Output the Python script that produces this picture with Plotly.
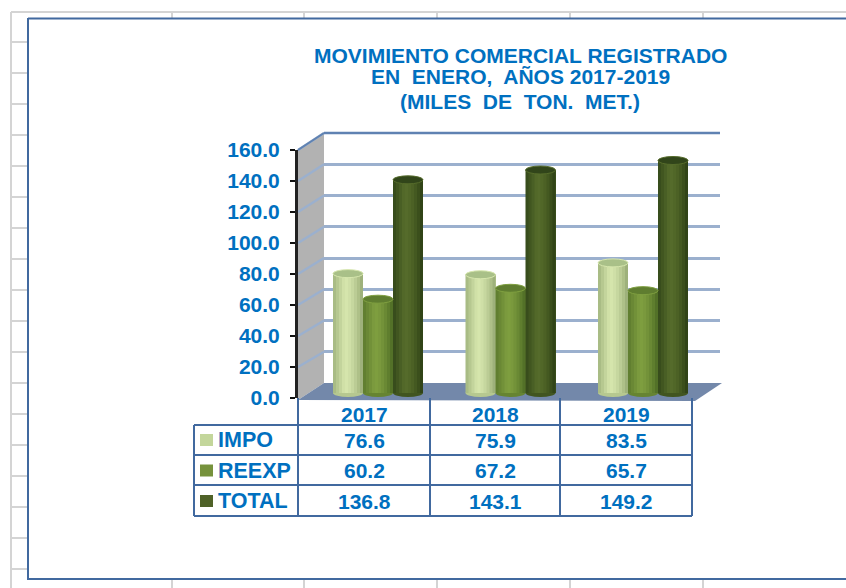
import plotly.graph_objects as go

W, H = 846, 588
years = ["2017", "2018", "2019"]
series_names = ["IMPO", "REEXP", "TOTAL"]
impo = [76.6, 75.9, 83.5]
reexp = [60.2, 67.2, 65.7]
total = [136.8, 143.1, 149.2]
all_series = [impo, reexp, total]
axis_ticks = [0, 20, 40, 60, 80, 100, 120, 140, 160]
title_lines = ["MOVIMIENTO COMERCIAL REGISTRADO", "EN  ENERO,  AÑOS 2017-2019", "(MILES  DE  TON.  MET.)"]

# cylinder shading: (edge-left, highlight, edge-right), top cap, base, legend key
shades = [("#a3b67f", "#d6e6ad", "#96a973"), ("#5d7a2e", "#7f9f40", "#4d6a24"), ("#34491a", "#566c2b", "#2c3e14")]
caps = ["#a9c088", "#5f7d30", "#31451a"]
keys = ["#c3d69b", "#76923c", "#4f6228"]
BLUE = "#0070c0"
FRAME = "#41699f"
GRID = "#9bb0ce"
SHEET = "#d4d4d4"


def fx(p):
    return p / W


def fy(p):
    return 1 - p / H


def hex2(c):
    return [int(c[i:i + 2], 16) for i in (1, 3, 5)]


def mix(a, b, t):
    A, B = hex2(a), hex2(b)
    return "rgb(%d,%d,%d)" % tuple(round(A[i] + (B[i] - A[i]) * t) for i in range(3))


shapes, annos = [], []


def line(x0, y0, x1, y1, color, width, layer="below"):
    shapes.append(dict(type="line", xref="paper", yref="paper", x0=fx(x0), x1=fx(x1), y0=fy(y0), y1=fy(y1),
                       line=dict(color=color, width=width), layer=layer))


def poly(pts, color):
    d = "M" + " L".join(f"{fx(a):.5f},{fy(b):.5f}" for a, b in pts) + " Z"
    shapes.append(dict(type="path", xref="paper", yref="paper", path=d, fillcolor=color,
                       line=dict(width=0), layer="below"))


def label(x, y, text, anchor="center", size=21):
    annos.append(dict(xref="paper", yref="paper", x=fx(x), y=fy(y), text=text, showarrow=False, xanchor=anchor,
                      yanchor="middle", font=dict(family="Liberation Sans", size=size, color=BLUE, weight=700)))


# spreadsheet grid behind the frame
line(11, 12, 846, 12, SHEET, 2)
line(11, 12, 11, 588, SHEET, 2)
for yy in [42, 73, 104, 135, 166, 197, 228, 259, 290, 321, 352, 383, 414, 445, 476, 507, 538, 569]:
    line(11, yy, 28, yy, SHEET, 2)
for xx in [172, 304, 437, 570, 703]:
    line(xx, 12, xx, 18, SHEET, 2)
    line(xx, 579, xx, 588, SHEET, 2)

# chart frame
line(28, 18.5, 846, 18.5, FRAME, 2)
line(28, 18, 28, 580, FRAME, 2)
line(28, 579, 846, 579, FRAME, 2)

# 3-D walls
poly([(298, 150), (324, 133), (324, 383), (298, 400)], "#b2b2b2")
poly([(298, 400), (324, 383), (722, 383), (695, 401)], "#7388aa")
FRONT0, FRONTK = 398, 248 / 160
BACK0, BACKK = 383, 250 / 160
for t in axis_ticks[1:]:
    line(298, FRONT0 - t * FRONTK, 324, BACK0 - t * BACKK, GRID, 2.5)
line(324, 133, 720, 133, "#5f82b2", 2.5)
line(298, 150, 324, 133, "#5f82b2", 2)

# data table
for xx in [298, 430, 560, 692]:
    line(xx, 398, xx, 516, FRAME, 2, "above")
line(194, 425, 194, 516, FRAME, 2, "above")
for yy in [425, 455, 485, 516]:
    line(194, yy, 692, yy, FRAME, 2, "above")

col_centres = [364, 495, 626]
for cx, year in zip(col_centres, years):
    label(cx, 414, year)
row_centres = [440, 470.5, 501]
for ry, name, vals, key in zip(row_centres, series_names, all_series, keys):
    label(216, ry, name, "left", 21.5)
    shapes.append(dict(type="rect", xref="paper", yref="paper", x0=fx(200), x1=fx(213), y0=fy(ry - 6), y1=fy(ry + 6),
                       fillcolor=key, line=dict(width=0), layer="above"))
    for cx, v in zip(col_centres, vals):
        label(cx, ry, f"{v:.1f}")

for ty, txt in zip([55, 77, 102], title_lines):
    label(520, ty, txt)

fig = go.Figure()

# The back wall and the front value axis need a trace so that plotly draws them
for xa, ya in [("x", "y"), ("x2", "y2")]:
    fig.add_trace(go.Scatter(x=[0.5, 0.5], y=[axis_ticks[0], axis_ticks[-1]], xaxis=xa, yaxis=ya, mode="markers",
                             marker=dict(opacity=0), hoverinfo="skip", showlegend=False))

# Bars: each cylinder is built from narrow strips sharing the same value
BAR_W = 30 / 132.5
STRIPS = 10
for s, vals in enumerate(all_series):
    start = -1.5 * BAR_W + s * BAR_W
    left, mid, right = shades[s]
    for j in range(STRIPS):
        t = (j + 0.5) / STRIPS
        col = mix(left, mid, t / 0.4) if t < 0.4 else mix(mid, right, ((t - 0.4) / 0.6) ** 1.6)
        off = start + j * BAR_W / STRIPS
        wid = BAR_W - j * BAR_W / STRIPS  # runs to the right edge, later strips paint over it
        fig.add_trace(go.Bar(x=years, y=vals, xaxis="x3", yaxis="y3", width=wid, offset=off,
                             marker=dict(color=col, line=dict(width=0)), showlegend=False, name=series_names[s]))
    for i, v in enumerate(vals):
        a, b = i + start, i + start + BAR_W
        shapes.append(dict(type="circle", xref="x3", yref="y3", x0=a, x1=b, ysizemode="pixel", yanchor=v, y0=-4, y1=4,
                           fillcolor=caps[s], line=dict(color=mid, width=1), layer="above"))
        shapes.append(dict(type="circle", xref="x3", yref="y3", x0=a, x1=b, ysizemode="pixel", yanchor=0, y0=-4, y1=4,
                           fillcolor=mix(mid, right, 0.5), line=dict(width=0), layer="below"))

fig.update_layout(
    width=W, height=H, margin=dict(l=0, r=0, t=0, b=0, pad=0), paper_bgcolor="white", plot_bgcolor="rgba(0,0,0,0)",
    autosize=False, barmode="overlay", showlegend=False, shapes=shapes, annotations=annos,
    # back wall with its gridlines
    xaxis=dict(domain=[fx(324), fx(720)], range=[0, 1], visible=False, anchor="y", automargin=False),
    yaxis=dict(domain=[fy(BACK0), fy(BACK0 - 160 * BACKK)], range=[0, 160], anchor="x", tickvals=axis_ticks,
               automargin=False, showticklabels=False, ticks="", showgrid=True, gridcolor=GRID, gridwidth=2.5,
               zeroline=False, showline=False),
    # front value axis with its labels
    xaxis2=dict(domain=[fx(298), fx(695)], range=[0, 1], visible=False, anchor="y2", automargin=False),
    yaxis2=dict(domain=[fy(FRONT0), fy(FRONT0 - 160 * FRONTK)], range=[0, 160], anchor="x2", tickvals=axis_ticks,
                automargin=False, tickformat=".1f", ticks="outside", ticklen=5, tickwidth=2, tickcolor="#111111",
                ticklabelstandoff=6, showline=True, linecolor="#222222", linewidth=3, showgrid=False, zeroline=False,
                tickfont=dict(family="Liberation Sans", size=21, color=BLUE, weight=700)),
    # bars
    xaxis3=dict(domain=[fx(311.75), fx(709.25)], type="category", categoryorder="array", categoryarray=years,
                range=[-0.5, 2.5], visible=False, anchor="y3", automargin=False),
    yaxis3=dict(domain=[fy(400.8), fy(128.1)], range=[-5, 170], anchor="x3", visible=False, automargin=False),
)

fig.write_html("out.html", config={"displayModeBar": False},
               post_script="document.body.style.margin='0';document.body.style.overflow='hidden';")
